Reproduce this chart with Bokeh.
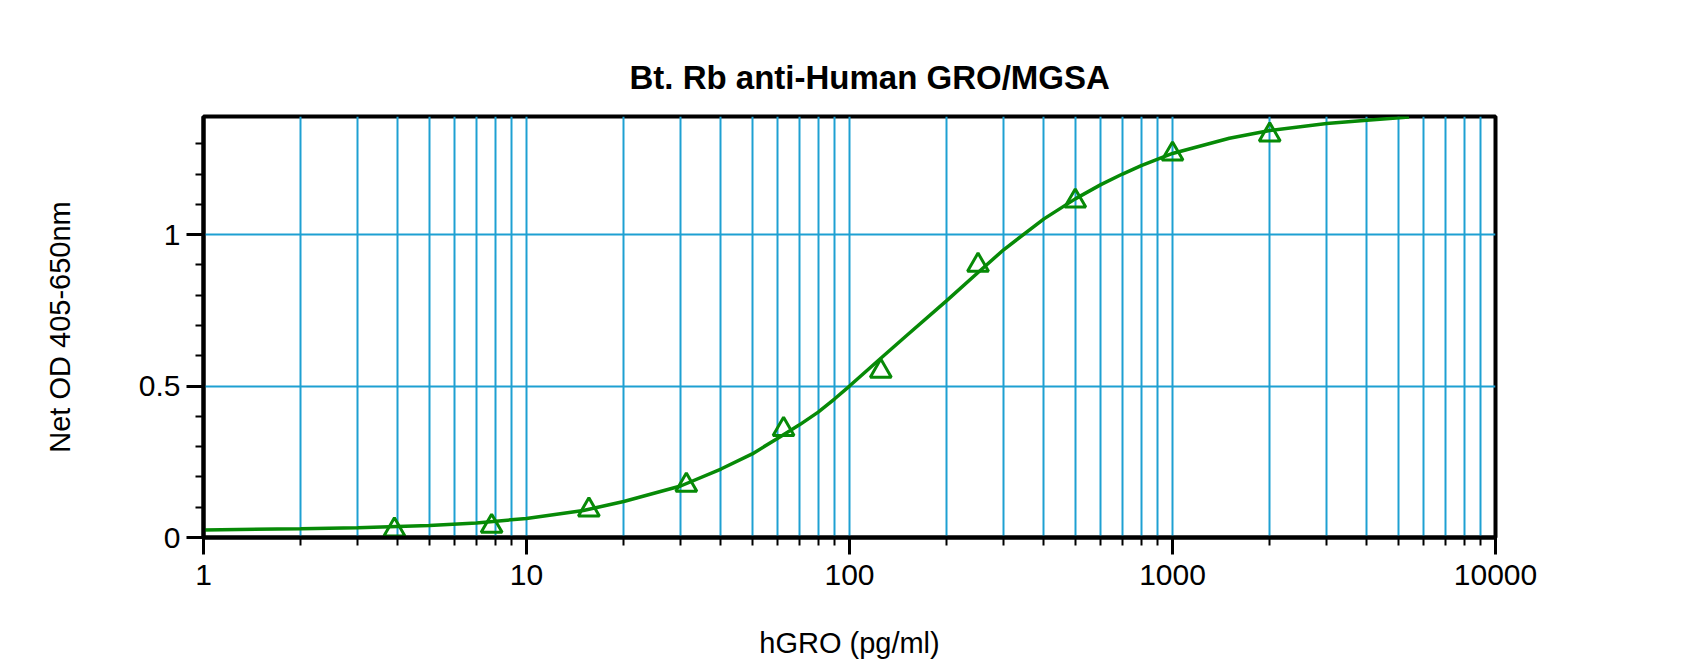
from bokeh.plotting import figure
from bokeh.models import FixedTicker, SingleIntervalTicker, NumeralTickFormatter, Range1d
from bokeh.embed import file_html
from bokeh.resources import INLINE

# standards: concentration (pg/ml) and net OD
conc = [3.9, 7.8, 15.6, 31.25, 62.5, 125, 250, 500, 1000, 2000]
od = [0.025, 0.037, 0.091, 0.173, 0.357, 0.549, 0.899, 1.111, 1.266, 1.329]

# fitted curve
fit_x = [1, 2, 3, 5, 7, 10, 15, 20, 30, 40, 50, 60, 70, 80, 90, 100, 125, 150,
         200, 250, 300, 400, 500, 600, 700, 800, 1000, 1500, 2000, 3000, 4000, 5400]
fit_y = [0.025, 0.029, 0.032, 0.040, 0.048, 0.063, 0.089, 0.119, 0.170, 0.226,
         0.276, 0.328, 0.372, 0.414, 0.458, 0.500, 0.592, 0.666, 0.782, 0.875,
         0.950, 1.052, 1.118, 1.165, 1.200, 1.228, 1.268, 1.318, 1.344, 1.367,
         1.378, 1.388]

x_major = [1, 10, 100, 1000, 10000]
x_minor = [m * d for d in [1, 10, 100, 1000] for m in range(2, 10)]

GRID = "#1ea0d2"
GREEN = "#078a07"
FONT = "Liberation Sans"

p = figure(frame_width=1292, frame_height=421,
           x_axis_type="log",
           x_range=Range1d(1, 10000), y_range=Range1d(0, 1.39),
           title="Bt. Rb anti-Human GRO/MGSA",
           x_axis_label="hGRO (pg/ml)",
           y_axis_label="Net OD 405-650nm",
           min_border_left=203, min_border_right=205,
           min_border_top=116, min_border_bottom=126,
           output_backend="svg", toolbar_location=None)

# title
p.title.text_font = FONT
p.title.text_font_style = "bold"
p.title.text_font_size = "33px"
p.title.text_color = "black"
p.title.align = "left"
p.title.offset = 426
p.title.standoff = 42

# ticks
xt = FixedTicker(ticks=x_major, minor_ticks=x_minor)
p.xaxis.ticker = xt
p.xgrid.ticker = xt
p.xaxis.formatter = NumeralTickFormatter(format="0")
yt = SingleIntervalTicker(interval=0.5, num_minor_ticks=5)
p.yaxis.ticker = yt
p.ygrid.ticker = yt
p.yaxis.formatter = NumeralTickFormatter(format="0.[0]")

for ax in (p.xaxis, p.yaxis):
    ax.axis_line_width = 4
    ax.axis_line_color = "black"
    ax.major_tick_line_width = 3
    ax.major_tick_out = 17
    ax.major_tick_in = 0
    ax.minor_tick_line_width = 2
    ax.minor_tick_out = 8
    ax.minor_tick_in = 0
    ax.major_label_text_font = FONT
    ax.major_label_text_font_size = "30px"
    ax.major_label_text_color = "black"
    ax.axis_label_text_font = FONT
    ax.axis_label_text_font_style = "normal"
    ax.axis_label_text_font_size = "29px"
    ax.axis_label_text_color = "black"

p.xaxis.major_label_standoff = 10
p.yaxis.major_label_standoff = 6
p.xaxis.axis_label_standoff = 39
p.yaxis.axis_label_standoff = 60

# grid
p.xgrid.grid_line_color = GRID
p.xgrid.grid_line_width = 2
p.xgrid.minor_grid_line_color = GRID
p.xgrid.minor_grid_line_width = 2
p.ygrid.grid_line_color = GRID
p.ygrid.grid_line_width = 2

p.outline_line_color = "black"
p.outline_line_width = 4
p.outline_line_alpha = 1

# curve and standards
p.line(fit_x, fit_y, line_color=GREEN, line_width=3.5)
p.scatter(conc, od, marker="triangle", size=21, line_color=GREEN,
          fill_color=None, line_width=3)

open("out.html", "w").write(file_html(p, INLINE))
